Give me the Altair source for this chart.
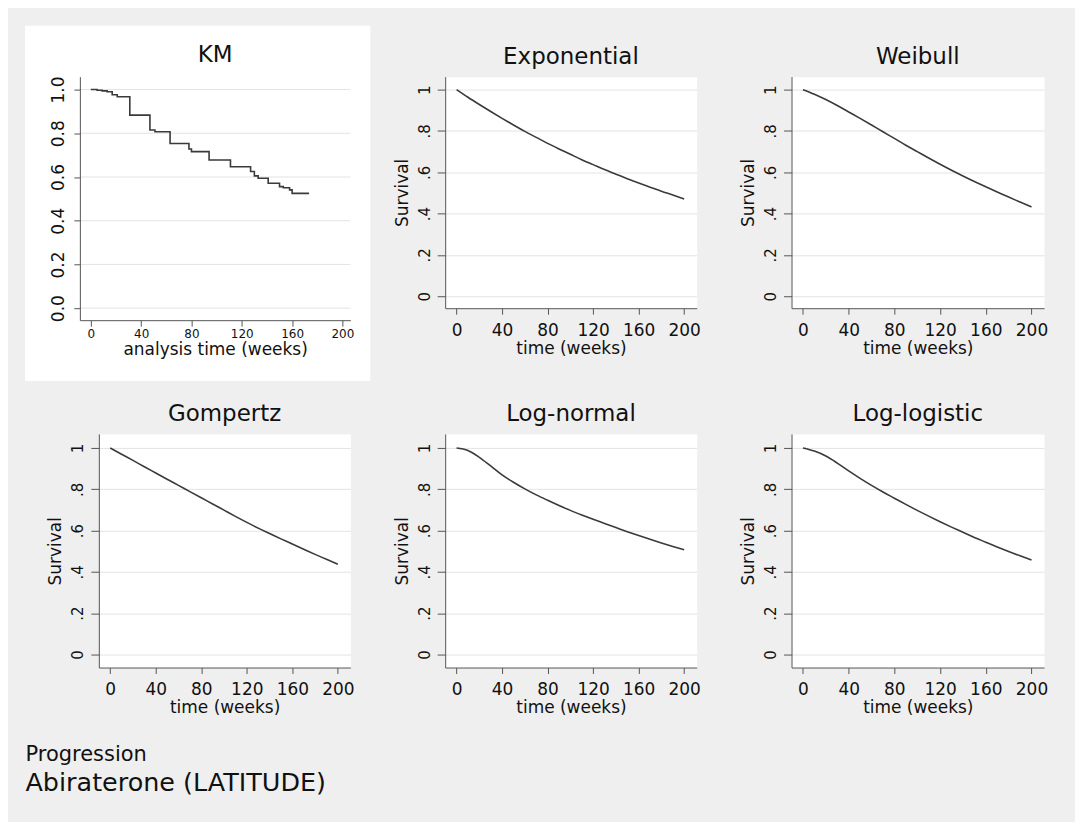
import altair as alt
import pandas as pd

FONT = "DejaVu Sans"
BG = "#efefef"
LINE = "#3a3a3a"
AXIS = "#555555"
GRID = "#e3e3e3"
TEXT = "#111111"

# ---- data ----
km_time = [0, 5, 9, 13, 17, 21, 31, 47, 51, 63, 78, 80, 94, 111, 127, 130, 133, 141, 150, 153, 158, 160, 173.5]
km_surv = [1.0, 0.997, 0.994, 0.99, 0.976, 0.967, 0.883, 0.815, 0.807, 0.753, 0.728, 0.716, 0.678, 0.647,
           0.625, 0.605, 0.594, 0.571, 0.556, 0.551, 0.541, 0.525, 0.525]

fit_time = [0, 10, 20, 30, 40, 50, 60, 70, 80, 90, 100, 110, 120, 130, 140, 150, 160, 170, 180, 190, 200]
exponential = [1.0, 0.963, 0.928, 0.894, 0.861, 0.829, 0.798, 0.769, 0.740, 0.713, 0.687, 0.661, 0.637,
               0.613, 0.591, 0.569, 0.548, 0.528, 0.508, 0.490, 0.471]
weibull = [1.0, 0.978, 0.952, 0.923, 0.892, 0.861, 0.829, 0.796, 0.764, 0.731, 0.700, 0.669, 0.639,
           0.610, 0.582, 0.555, 0.530, 0.505, 0.480, 0.456, 0.432]
gompertz = [1.0, 0.970, 0.940, 0.909, 0.879, 0.849, 0.819, 0.789, 0.759, 0.729, 0.699, 0.669, 0.640,
            0.612, 0.586, 0.560, 0.535, 0.510, 0.485, 0.461, 0.437]
lognormal = [1.0, 0.988, 0.955, 0.913, 0.870, 0.834, 0.802, 0.773, 0.747, 0.722, 0.698, 0.676, 0.655,
             0.635, 0.615, 0.595, 0.576, 0.558, 0.540, 0.523, 0.507]
loglogistic = [1.0, 0.985, 0.961, 0.927, 0.889, 0.853, 0.819, 0.787, 0.757, 0.727, 0.698, 0.670, 0.643,
               0.617, 0.592, 0.567, 0.544, 0.521, 0.499, 0.478, 0.458]

y_ticks = [0, 0.2, 0.4, 0.6, 0.8, 1.0]
x_ticks = [0, 40, 80, 120, 160, 200]

KM_X_DOMAIN = [-8.7, 206.3]
KM_Y_DOMAIN = [-0.055, 1.059]
FIT_X_DOMAIN = [-10, 211]
FIT_Y_ROW1 = [-0.058, 1.063]
FIT_Y_ROW2 = [-0.063, 1.068]

common_axis = dict(domainColor=AXIS, tickColor=AXIS, labelColor=TEXT, titleColor=TEXT,
                   labelFont=FONT, titleFont=FONT, titleFontWeight="normal",
                   labelFlush=False, labelOverlap=False, domainWidth=1, tickWidth=1)

# ---- KM panel ----
km_x_scale = alt.Scale(domain=KM_X_DOMAIN, range=[-19, 252], nice=False, zero=False)
km_y_scale = alt.Scale(domain=KM_Y_DOMAIN, nice=False, zero=False)
km_x_axis = alt.Axis(values=x_ticks, grid=False, tickSize=6, labelPadding=2, labelFontSize=12,
                     titleFontSize=17, titlePadding=3, minExtent=18, maxExtent=18, zindex=1,
                     **common_axis)
km_y_axis = alt.Axis(values=y_ticks, grid=False, format=".1f", labelAngle=270, labelAlign="center",
                     labelBaseline="bottom", tickSize=6, labelPadding=6, labelFontSize=17, offset=19,
                     zindex=1, **common_axis)

km_df = pd.DataFrame({"t": km_time, "S": km_surv})
grid_df = pd.DataFrame({"v": y_ticks, "x0": [KM_X_DOMAIN[0]] * len(y_ticks),
                        "x1": [KM_X_DOMAIN[1]] * len(y_ticks)})

km_bg = alt.Chart(pd.DataFrame({"k": [0]})).mark_rect(color="white").encode(
    x=alt.value(-74), x2=alt.value(272), y=alt.value(-51), y2=alt.value(305))
km_grid = alt.Chart(grid_df).mark_rule(color=GRID, strokeWidth=1).encode(
    x=alt.X("x0:Q", scale=km_x_scale, axis=km_x_axis, title="analysis time (weeks)"),
    x2="x1:Q",
    y=alt.Y("v:Q", scale=km_y_scale, axis=km_y_axis, title=None))
km_line = alt.Chart(km_df).mark_line(interpolate="step-after", color=LINE, strokeWidth=1.6).encode(
    x=alt.X("t:Q", scale=km_x_scale, axis=km_x_axis, title="analysis time (weeks)"),
    y=alt.Y("S:Q", scale=km_y_scale, axis=km_y_axis, title=None))

km = alt.layer(km_bg, km_grid, km_line).properties(
    width=252, height=244,
    title=alt.TitleParams("KM", fontSize=23, font=FONT, fontWeight="normal", color=TEXT,
                          frame="group", anchor="middle", offset=0, dy=59, dx=-9.5,
                          baseline="alphabetic", zindex=1))


def fitted(name, values, ydom, w, h):
    df = pd.DataFrame({"t": fit_time, "S": values})
    x_axis = alt.Axis(values=x_ticks, grid=False, tickSize=6, labelPadding=8, labelFontSize=17,
                      titleFontSize=17, titlePadding=1, minExtent=31, maxExtent=31, **common_axis)
    y_axis = alt.Axis(values=y_ticks, grid=True, gridColor=GRID, gridWidth=1,
                      labelExpr="replace(format(datum.value, '.1~f'), '0.', '.')",
                      labelAngle=270, labelAlign="center", labelBaseline="bottom",
                      tickSize=8, labelPadding=5, labelFontSize=15, titleFontSize=17,
                      titlePadding=10, minExtent=28, maxExtent=28, titleBaseline="alphabetic",
                      **common_axis)
    return alt.Chart(df).mark_line(interpolate="monotone", color=LINE, strokeWidth=1.6).encode(
        x=alt.X("t:Q", scale=alt.Scale(domain=FIT_X_DOMAIN, nice=False, zero=False), axis=x_axis,
                title="time (weeks)"),
        y=alt.Y("S:Q", scale=alt.Scale(domain=ydom, nice=False, zero=False), axis=y_axis,
                title="Survival"),
    ).properties(
        width=w, height=h,
        title=alt.TitleParams(name, fontSize=23, font=FONT, fontWeight="normal", color=TEXT,
                              frame="group", anchor="middle", offset=10, dy=20,
                              baseline="alphabetic"))


p_exp = fitted("Exponential", exponential, FIT_Y_ROW1, 252, 232)
p_wei = fitted("Weibull", weibull, FIT_Y_ROW1, 253, 232)
p_gom = fitted("Gompertz", gompertz, FIT_Y_ROW2, 252, 234)
p_lgn = fitted("Log-normal", lognormal, FIT_Y_ROW2, 252, 234)
p_llg = fitted("Log-logistic", loglogistic, FIT_Y_ROW2, 253, 234)

chart = alt.concat(
    km, p_exp, p_wei, p_gom, p_lgn, p_llg,
    columns=3, spacing={"row": 114, "column": 95}, bounds="flush", align="each",
).properties(
    background=BG,
    padding={"left": 16, "top": 16, "right": 26, "bottom": 25},
    title=alt.TitleParams("Progression", subtitle="Abiraterone (LATITUDE)", orient="bottom",
                          anchor="start", frame="bounds", fontSize=21, subtitleFontSize=25.5,
                          font=FONT, subtitleFont=FONT, fontWeight="normal",
                          subtitleFontWeight="normal", color=TEXT, subtitleColor=TEXT,
                          offset=28, baseline="top", subtitlePadding=6, dx=1),
).configure(font=FONT).configure_view(stroke="transparent", fill="white")

chart.save("out.html", embed_options={"renderer": "svg", "actions": False})
